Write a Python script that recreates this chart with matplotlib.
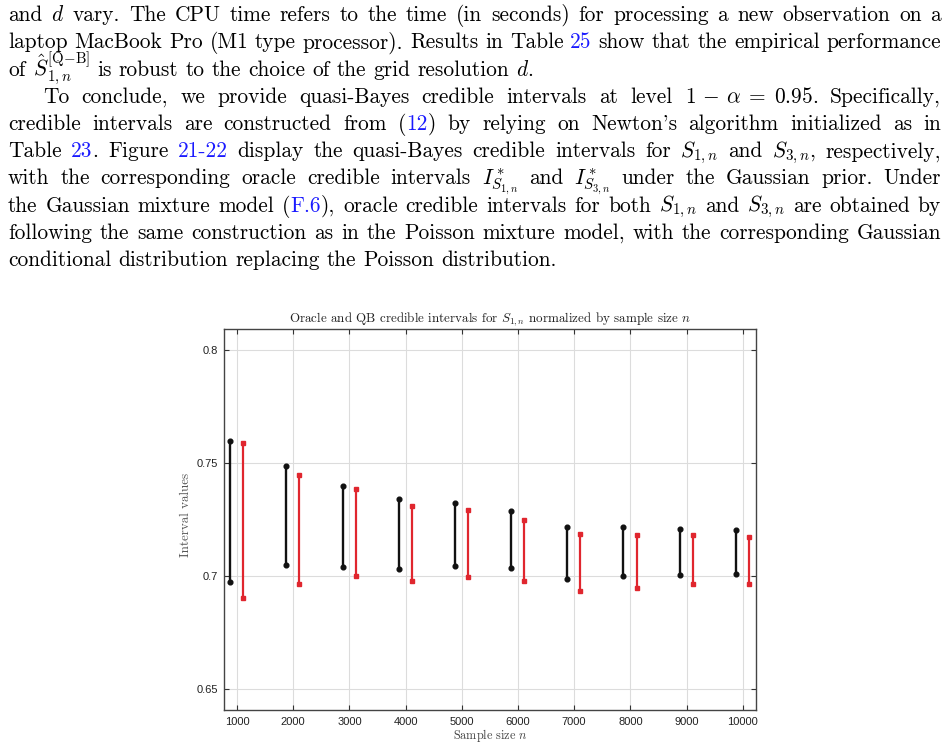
import matplotlib
matplotlib.use('Agg')
import matplotlib.pyplot as plt
import numpy as np
from matplotlib.transforms import IdentityTransform

plt.rcParams['mathtext.fontset'] = 'cm'
plt.rcParams['axes.unicode_minus'] = False
plt.rcParams['font.family'] = ['Liberation Sans', 'DejaVu Sans']

# ---------------- data ----------------
sample_sizes = [1000, 2000, 3000, 4000, 5000, 6000, 7000, 8000, 9000, 10000]
oracle_lower = [0.6976, 0.7049, 0.7042, 0.7031, 0.7046, 0.7037, 0.6985, 0.6999, 0.7004, 0.7009]
oracle_upper = [0.7597, 0.7490, 0.7400, 0.7340, 0.7324, 0.7290, 0.7216, 0.7219, 0.7210, 0.7204]
qb_lower = [0.6905, 0.6967, 0.7000, 0.6978, 0.6996, 0.6978, 0.6936, 0.6948, 0.6963, 0.6966]
qb_upper = [0.7589, 0.7448, 0.7387, 0.7312, 0.7293, 0.7247, 0.7185, 0.7183, 0.7183, 0.7173]
x_ticks = [1000, 2000, 3000, 4000, 5000, 6000, 7000, 8000, 9000, 10000]
y_ticks = [0.65, 0.70, 0.75, 0.80]
y_tick_labels = ['0.65', '0.7', '0.75', '0.8']

chart_title = r'Oracle and QB credible intervals for $S_{1,n}$ normalized by sample size $n$'
x_label = r'Sample size $n$'
y_label = 'Interval values'

# paragraph text: «...» marks blue (hyperlinked) text
paragraph_lines = [
    r"and $d$ vary. The CPU time refers to the time (in seconds) for processing a new observation on a",
    r"laptop MacBook Pro (M1 type processor). Results in Table «25» show that the empirical performance",
    r"of $\hat{S}^{[\mathrm{Q\!-\!B}]}_{1,n}$ is robust to the choice of the grid resolution $d$.",
    r"To conclude, we provide quasi-Bayes credible intervals at level $1\,-\,\alpha\;=\;0.95$. Specifically,",
    r"credible intervals are constructed from («12») by relying on Newton's algorithm initialized as in",
    r"Table «23». Figure «21-22» display the quasi-Bayes credible intervals for $S_{1,n}$ and $S_{3,n}$, respectively,",
    r"with the corresponding oracle credible intervals $I^*_{S_{1,n}}$ and $I^*_{S_{3,n}}$ under the Gaussian prior. Under",
    r"the Gaussian mixture model («F.6»), oracle credible intervals for both $S_{1,n}$ and $S_{3,n}$ are obtained by",
    r"following the same construction as in the Poisson mixture model, with the corresponding Gaussian",
    r"conditional distribution replacing the Poisson distribution.",
]
line_indent = [False, False, False, True, False, False, False, False, False, False]
line_justify = [True, True, False, True, True, True, True, True, True, False]

# ---------------- figure ----------------
W, H = 949, 747
fig = plt.figure(figsize=(W / 100, H / 100), dpi=100)
renderer = fig.canvas.get_renderer()
px = IdentityTransform()

SERIF = 'cmr10'
FS = 15.4
BLUE = '#1a1aff'
X_LEFT, X_RIGHT, INDENT = 8, 941, 35
BASE0, LEAD = 21, 27.25
SPACE = FS * 100 / 72 * 0.3333


def seg_width(s):
    t = fig.text(0, 0, s, fontsize=FS, family=SERIF, transform=px)
    w = t.get_window_extent(renderer).width
    t.remove()
    return w


def parse_word(word):
    segs, buf, blue = [], '', False
    for ch in word:
        if ch in '«»':
            if buf:
                segs.append((buf, blue))
                buf = ''
            blue = (ch == '«')
        else:
            buf += ch
    if buf:
        segs.append((buf, blue))
    return segs


for i, line in enumerate(paragraph_lines):
    words = [parse_word(w) for w in line.split(' ')]
    wsegs = [[(s, b, seg_width(s)) for s, b in w] for w in words]
    wwidth = [sum(x[2] for x in w) for w in wsegs]
    x0 = X_LEFT + (INDENT if line_indent[i] else 0)
    if line_justify[i] and len(words) > 1:
        gap = (X_RIGHT - x0 - sum(wwidth)) / (len(words) - 1)
    else:
        gap = SPACE
    y = H - (BASE0 + LEAD * i)
    x = x0
    for w, ww in zip(wsegs, wwidth):
        xs = x
        for s, b, sw in w:
            fig.text(xs, y, s, fontsize=FS, family=SERIF, transform=px,
                     ha='left', va='baseline', color=BLUE if b else 'black')
            xs += sw
        x += ww + gap

# ---------------- chart ----------------
ax_l, ax_r, ax_t, ax_b = 223.7, 755.7, 329.0, 709.7
ax = fig.add_axes([ax_l / W, 1 - ax_b / H, (ax_r - ax_l) / W, (ax_b - ax_t) / H])

xs = np.array(sample_sizes, dtype=float)
black = '#111111'
red = '#e0262e'
ax.vlines(xs - 122, oracle_lower, oracle_upper, color=black, lw=1.7, zorder=3)
ax.plot(xs - 122, oracle_lower, 'o', color=black, ms=3.4, zorder=4)
ax.plot(xs - 122, oracle_upper, 'o', color=black, ms=3.4, zorder=4)
ax.vlines(xs + 112, qb_lower, qb_upper, color=red, lw=1.6, zorder=3)
ax.plot(xs + 112, qb_lower, 's', color=red, ms=2.8, zorder=4)
ax.plot(xs + 112, qb_upper, 's', color=red, ms=2.8, zorder=4)

ax.set_xlim(763, 10231)
ax.set_ylim(0.6408, 0.8095)
ax.set_xticks(x_ticks)
ax.set_xticklabels([str(v) for v in x_ticks])
ax.set_yticks(y_ticks)
ax.set_yticklabels(y_tick_labels)
ax.grid(True, color='#dcdcdc', lw=0.8)
ax.set_axisbelow(True)
ax.tick_params(direction='in', top=True, right=True, length=3.8, width=0.8,
               color='#333333', labelsize=8, labelcolor='#222222')
ax.tick_params(axis='x', pad=5)
ax.tick_params(axis='y', pad=4)
for sp in ax.spines.values():
    sp.set_color('#444444')
    sp.set_linewidth(1.0)

fig.text(490, H - 322, chart_title, fontsize=9.4, family=SERIF, transform=px,
         ha='center', va='baseline', color='#222222')
fig.text(490, H - 735, x_label, fontsize=8.8, family=SERIF, transform=px,
         ha='center', va='center', color='#444444')
fig.text(186, H - 515, y_label, fontsize=9.4, family=SERIF, transform=px,
         ha='center', va='center', rotation=90, color='#555555')

fig.savefig('out.png', dpi=100)
